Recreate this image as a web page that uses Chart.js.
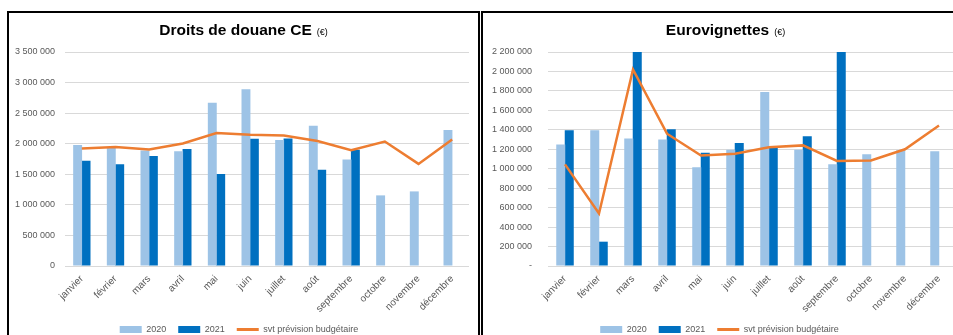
<!DOCTYPE html>
<html lang="fr">
<head>
<meta charset="utf-8">
<script src="https://cdn.jsdelivr.net/npm/chart.js@4.4.1/dist/chart.umd.min.js"></script>
<style>
  html, body { margin: 0; padding: 0; background: #fff; }
  body { width: 953px; height: 335px; overflow: hidden; position: relative; }
  .panel { position: absolute; top: 11px; height: 340px; box-sizing: border-box;
           border: 2px solid #000; border-bottom: none; overflow: hidden; }
  #p1 { left: 7px; width: 473px; }
  #p2 { left: 481px; width: 489px; }
  canvas { display: block; }
</style>
</head>
<body>
<div class="panel" id="p1"><canvas id="douane" width="469" height="335"></canvas></div>
<div class="panel" id="p2"><canvas id="euro" width="485" height="335"></canvas></div>
<script>
// months (x categories)
const months = ['janvier', 'février', 'mars', 'avril', 'mai', 'juin', 'juillet', 'août',
  'septembre', 'octobre', 'novembre', 'décembre'];

// Droits de douane CE
const douane2020 = [1980000, 1940000, 1890000, 1875000, 2670000, 2890000, 2060000, 2295000, 1740000, 1155000, 1220000, 2225000];
const douane2021 = [1720000, 1665000, 1800000, 1915000, 1505000, 2080000, 2085000, 1575000, 1900000, null, null, null];
const douanePrevision = [1920000, 1945000, 1905000, 2005000, 2175000, 2145000, 2135000, 2045000, 1895000, 2035000, 1670000, 2070000];

// Eurovignettes (mars and septembre 2021 go off the top of the axis)
const euro2020 = [1250000, 1395000, 1310000, 1300000, 1015000, 1195000, 1790000, 1195000, 1045000, 1150000, 1190000, 1180000];
const euro2021 = [1395000, 250000, 2500000, 1405000, 1165000, 1265000, 1225000, 1335000, 2500000, null, null, null];
const euroPrevision = [1045000, 540000, 2020000, 1360000, 1135000, 1155000, 1220000, 1240000, 1080000, 1085000, 1200000, 1445000];

const seriesNames = ['2020', '2021', 'svt prévision budgétaire'];

const LIGHT = '#9DC3E6';
const DARK = '#0070C0';
const ORANGE = '#ED7D31';
const GRID = '#D9D9D9';
const TEXT = '#595959';
const FONT = "'Liberation Sans', Arial, sans-serif";

function fmt(v) {
  return String(v).replace(/\B(?=(\d{3})+(?!\d))/g, ' ');
}

// title with a smaller "(€)" next to it
const richTitle = {
  id: 'richTitle',
  afterDraw(chart, args, opts) {
    const ctx = chart.ctx;
    ctx.save();
    ctx.textBaseline = 'alphabetic';
    ctx.fillStyle = '#000';
    const bigFont = 'bold 15.5px ' + FONT;
    const smallFont = '9px ' + FONT;
    ctx.font = bigFont;
    const w1 = ctx.measureText(opts.text).width;
    ctx.font = smallFont;
    const w2 = ctx.measureText('  (€)').width;
    let x = opts.centerX - (w1 + w2) / 2;
    ctx.textAlign = 'left';
    ctx.font = bigFont;
    ctx.fillText(opts.text, x, opts.y);
    ctx.font = smallFont;
    ctx.fillText('  (€)', x + w1, opts.y);
    ctx.restore();
  }
};

function makeChart(id, title, d2020, d2021, dPrev, yMax, yStep, yWidth, yPad, padRight, zeroLabel) {
  const ctx = document.getElementById(id).getContext('2d');
  return new Chart(ctx, {
    type: 'bar',
    data: {
      labels: months,
      datasets: [
        { label: seriesNames[0], data: d2020, backgroundColor: LIGHT, order: 1,
          categoryPercentage: 0.5, barPercentage: 1.06 },
        { label: seriesNames[1], data: d2021, backgroundColor: DARK, order: 1,
          categoryPercentage: 0.5, barPercentage: 1.06 },
        { type: 'line', label: seriesNames[2], data: dPrev, borderColor: ORANGE,
          backgroundColor: ORANGE, borderWidth: 2.5, pointRadius: 0, tension: 0, order: 0 }
      ]
    },
    options: {
      responsive: false,
      animation: false,
      devicePixelRatio: 1,
      layout: { padding: { top: 39, right: padRight, bottom: 4, left: 0 } },
      plugins: {
        tooltip: { enabled: false },
        title: { display: false },
        richTitle: { text: title, centerX: ctx.canvas.width / 2, y: 22 },
        legend: {
          position: 'bottom',
          labels: {
            usePointStyle: true,
            pointStyleWidth: 22,
            boxHeight: 7,
            padding: 12,
            color: TEXT,
            font: { family: FONT, size: 9 },
            generateLabels(chart) {
              return chart.data.datasets.map((ds, i) => ({
                text: ds.label,
                datasetIndex: i,
                fillStyle: ds.type === 'line' ? ORANGE : ds.backgroundColor,
                strokeStyle: ORANGE,
                lineWidth: ds.type === 'line' ? 3 : 0,
                pointStyle: ds.type === 'line' ? 'line' : 'rect',
                fontColor: TEXT,
                hidden: false
              }));
            }
          }
        }
      },
      scales: {
        x: {
          grid: { display: false, drawTicks: false },
          border: { display: false },
          ticks: {
            minRotation: 45, maxRotation: 45, padding: 7, color: TEXT,
            font: { family: FONT, size: 10 }, autoSkip: false
          },
          afterFit(scale) { scale.height = 47; }
        },
        y: {
          min: 0, max: yMax,
          grid: { color: GRID, lineWidth: 1, drawTicks: false },
          border: { display: false },
          ticks: {
            stepSize: yStep, padding: yPad, color: TEXT,
            font: { family: FONT, size: 9 },
            callback: (v) => v === 0 ? zeroLabel : fmt(v)
          },
          afterFit(scale) { scale.width = yWidth; }
        }
      }
    },
    plugins: [richTitle]
  });
}

makeChart('douane', 'Droits de douane CE', douane2020, douane2021, douanePrevision,
  3500000, 500000, 56, 10, 9, '0');
makeChart('euro', 'Eurovignettes', euro2020, euro2021, euroPrevision,
  2200000, 200000, 65, 16, 12, '-');
</script>
</body>
</html>
